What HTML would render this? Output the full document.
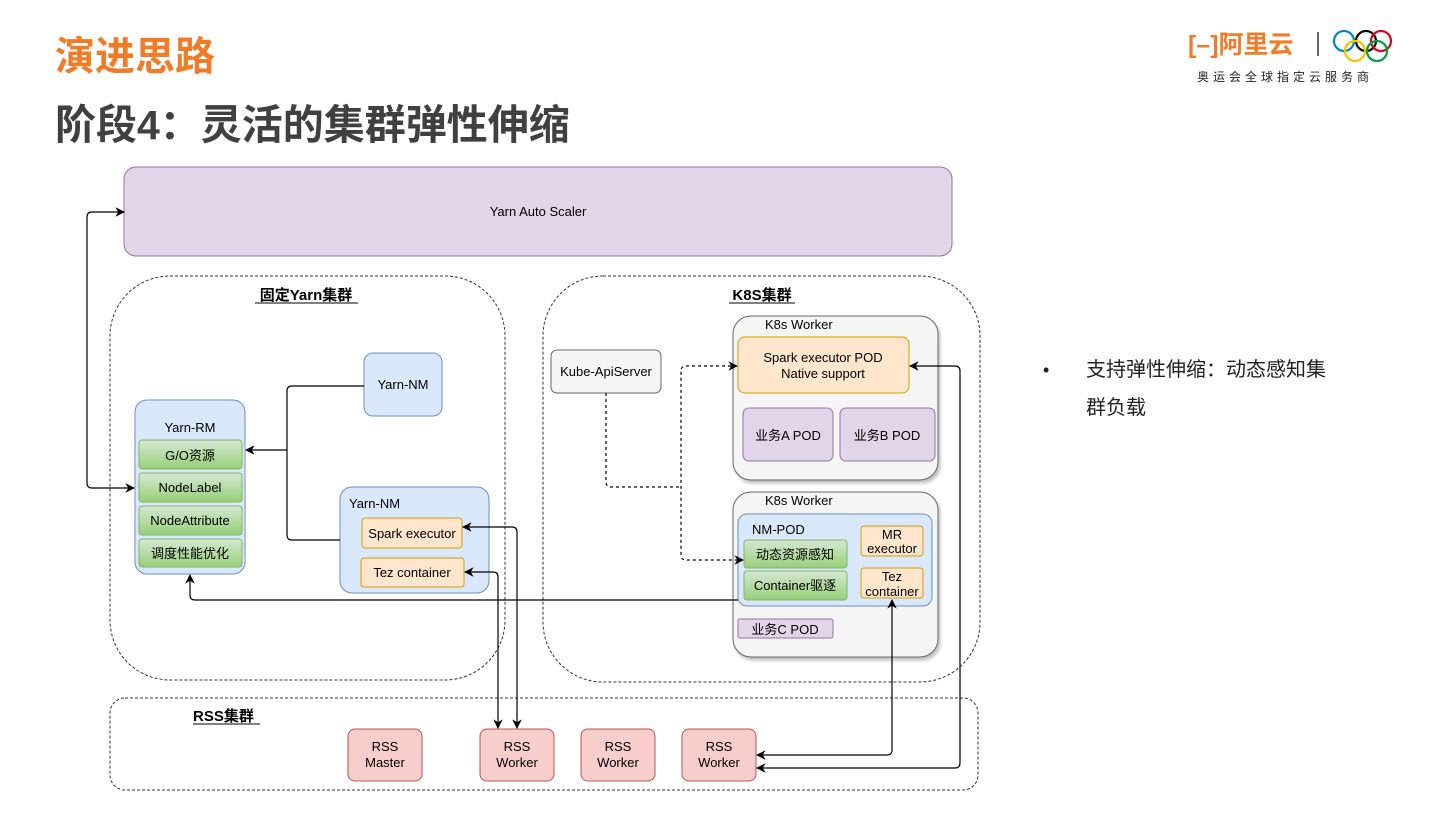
<!DOCTYPE html>
<html><head><meta charset="utf-8"><style>
body{margin:0;width:1440px;height:810px;background:#fff;overflow:hidden;font-family:"Liberation Sans","Noto Sans CJK SC",sans-serif;}
svg text{font-family:"Liberation Sans","Noto Sans CJK SC",sans-serif;}
</style></head><body>
<svg width="1440" height="810" viewBox="0 0 1440 810" xmlns="http://www.w3.org/2000/svg">
<defs>
<marker id="a" viewBox="0 0 10 10" refX="9" refY="5" markerWidth="8" markerHeight="8" orient="auto-start-reverse"><path d="M0,0 L10,5 L0,10 L3,5 z" fill="#000"/></marker>
<linearGradient id="g" x1="0" y1="0" x2="0" y2="1"><stop offset="0" stop-color="#d5e8d4"/><stop offset="1" stop-color="#97d077"/></linearGradient>
<filter id="sh"><feDropShadow dx="2" dy="3" stdDeviation="1.5" flood-opacity="0.25"/></filter>
</defs>
<text x="55" y="70" font-size="40" font-weight="bold" fill="#f07c28">演进思路</text>
<text x="55" y="139" font-size="41" font-weight="bold" fill="#404040">阶段4：灵活的集群弹性伸缩</text>
<text x="1188" y="53" font-size="25" font-weight="bold" fill="#f07c28">[–]阿里云</text>
<line x1="1318" y1="32" x2="1318" y2="56" stroke="#333" stroke-width="1.5"/>
<g fill="none" stroke-width="2.2"><circle cx="1344" cy="41" r="10" stroke="#0085c7"/><circle cx="1366" cy="41" r="10" stroke="#000"/><circle cx="1388" cy="41" r="10" stroke="#df0024" transform="translate(-7,0)"/><circle cx="1355" cy="51" r="10" stroke="#f4c300"/><circle cx="1377" cy="51" r="10" stroke="#009f3d"/></g>
<text x="1197" y="81" font-size="12" fill="#222" letter-spacing="4">奥运会全球指定云服务商</text>

<rect x="124" y="167" width="828" height="89" rx="12" fill="#e1d5e7" stroke="#9673a6"/>
<text x="538" y="216" font-size="13" text-anchor="middle">Yarn Auto Scaler</text>

<g fill="none" stroke="#333" stroke-dasharray="3,2">
<rect x="110" y="276" width="395" height="404" rx="60"/>
<rect x="543" y="276" width="437" height="406" rx="60"/>
<rect x="110" y="698" width="868" height="92" rx="15"/>
</g>
<text x="306" y="300" font-size="15" font-weight="bold" text-anchor="middle">固定Yarn集群</text>
<line x1="255" y1="303" x2="358" y2="303" stroke="#000"/>
<text x="762" y="300" font-size="15" font-weight="bold" text-anchor="middle">K8S集群</text>
<line x1="729" y1="303" x2="795" y2="303" stroke="#000"/>
<text x="193" y="721" font-size="15" font-weight="bold">RSS集群</text>
<line x1="193" y1="724" x2="260" y2="724" stroke="#000"/>

<rect x="135" y="400" width="110" height="174" rx="12" fill="#dae8fc" stroke="#6c8ebf"/>
<text x="190" y="432" font-size="13" text-anchor="middle">Yarn-RM</text>
<g stroke="#82b366" fill="url(#g)">
<rect x="139" y="440" width="103" height="29" rx="3"/><rect x="139" y="473" width="103" height="29" rx="3"/><rect x="139" y="506" width="103" height="29" rx="3"/><rect x="139" y="539" width="103" height="28" rx="3"/></g>
<g font-size="13" text-anchor="middle"><text x="190" y="460">G/O资源</text><text x="190" y="492">NodeLabel</text><text x="190" y="525">NodeAttribute</text><text x="190" y="558">调度性能优化</text></g>

<rect x="364" y="353" width="78" height="63" rx="9" fill="#dae8fc" stroke="#6c8ebf"/>
<text x="403" y="389" font-size="13" text-anchor="middle">Yarn-NM</text>
<rect x="340" y="487" width="149" height="106" rx="12" fill="#dae8fc" stroke="#6c8ebf"/>
<text x="349" y="508" font-size="13">Yarn-NM</text>
<rect x="362" y="518" width="100" height="30" rx="3" fill="#ffe6cc" stroke="#d79b00"/>
<text x="412" y="538" font-size="13" text-anchor="middle">Spark executor</text>
<rect x="361" y="558" width="103" height="29" rx="3" fill="#ffe6cc" stroke="#d79b00"/>
<text x="412" y="577" font-size="13" text-anchor="middle">Tez container</text>

<g fill="#f8cecc" stroke="#b85450"><rect x="348" y="729" width="74" height="52" rx="7"/><rect x="480" y="729" width="74" height="52" rx="7"/><rect x="581" y="729" width="74" height="52" rx="7"/><rect x="682" y="729" width="74" height="52" rx="7"/></g>
<g font-size="13" text-anchor="middle"><text x="385" y="751">RSS</text><text x="385" y="767">Master</text>
<text x="517" y="751">RSS</text><text x="517" y="767">Worker</text>
<text x="618" y="751">RSS</text><text x="618" y="767">Worker</text>
<text x="719" y="751">RSS</text><text x="719" y="767">Worker</text></g>

<rect x="551" y="350" width="110" height="43" rx="6" fill="#f5f5f5" stroke="#666"/>
<text x="606" y="376" font-size="13" text-anchor="middle">Kube-ApiServer</text>

<rect x="733" y="316" width="205" height="164" rx="18" fill="#f5f5f5" stroke="#666" filter="url(#sh)"/>
<text x="765" y="329" font-size="13">K8s Worker</text>
<rect x="738" y="337" width="171" height="56" rx="7" fill="#ffe6cc" stroke="#d79b00"/>
<text x="823" y="362" font-size="13" text-anchor="middle">Spark executor POD</text>
<text x="823" y="378" font-size="13" text-anchor="middle">Native support</text>
<rect x="743" y="408" width="90" height="53" rx="6" fill="#e1d5e7" stroke="#9673a6"/>
<rect x="840" y="408" width="95" height="53" rx="6" fill="#e1d5e7" stroke="#9673a6"/>
<text x="788" y="440" font-size="13" text-anchor="middle">业务A POD</text>
<text x="887" y="440" font-size="13" text-anchor="middle">业务B POD</text>

<rect x="733" y="492" width="205" height="165" rx="18" fill="#f5f5f5" stroke="#666" filter="url(#sh)"/>
<text x="765" y="505" font-size="13">K8s Worker</text>
<rect x="738" y="514" width="194" height="92" rx="9" fill="#dae8fc" stroke="#6c8ebf"/>
<text x="752" y="534" font-size="13">NM-POD</text>
<rect x="744" y="540" width="103" height="28" rx="3" fill="url(#g)" stroke="#82b366"/>
<rect x="744" y="571" width="103" height="29" rx="3" fill="url(#g)" stroke="#82b366"/>
<text x="795" y="559" font-size="13" text-anchor="middle">动态资源感知</text>
<text x="795" y="590" font-size="13" text-anchor="middle">Container驱逐</text>
<rect x="861" y="526" width="62" height="30" rx="3" fill="#ffe6cc" stroke="#d79b00"/>
<rect x="861" y="568" width="62" height="30" rx="3" fill="#ffe6cc" stroke="#d79b00"/>
<g font-size="13" text-anchor="middle"><text x="892" y="539">MR</text><text x="892" y="553">executor</text><text x="892" y="581">Tez</text><text x="892" y="596">container</text></g>
<rect x="738" y="619" width="95" height="19" rx="2" fill="#e1d5e7" stroke="#9673a6"/>
<text x="785" y="634" font-size="13" text-anchor="middle">业务C POD</text>

<g fill="none" stroke="#000" stroke-width="1.2">
<path d="M124,212 H92 Q87,212 87,217 V483 Q87,488 92,488 H134" marker-start="url(#a)" marker-end="url(#a)"/>
<path d="M364,386 H292 Q287,386 287,391 V535 Q287,540 292,540 H340"/>
<path d="M287,450 H246" marker-end="url(#a)"/>
<path d="M738,600 H195 Q190,600 190,595 V575" marker-end="url(#a)"/>
<path d="M463,527 H512 Q517,527 517,532 V728" marker-start="url(#a)" marker-end="url(#a)"/>
<path d="M465,572 H493 Q498,572 498,577 V728" marker-start="url(#a)" marker-end="url(#a)"/>
<path d="M892,600 V750 Q892,755 887,755 H757" marker-start="url(#a)" marker-end="url(#a)"/>
<path d="M910,366 H955 Q960,366 960,371 V763 Q960,768 955,768 H757" marker-start="url(#a)" marker-end="url(#a)"/>
<g stroke-dasharray="3,3">
<path d="M606,393 V482 Q606,487 611,487 H681"/>
<path d="M737,366 H686 Q681,366 681,371 V555 Q681,560 686,560 H743" marker-start="url(#a)" marker-end="url(#a)"/>
</g></g>

<text x="1043" y="376" font-size="18" fill="#222">•</text>
<text x="1086" y="376" font-size="20" fill="#222">支持弹性伸缩：动态感知集</text>
<text x="1086" y="414" font-size="20" fill="#222">群负载</text>
</svg>
</body></html>
